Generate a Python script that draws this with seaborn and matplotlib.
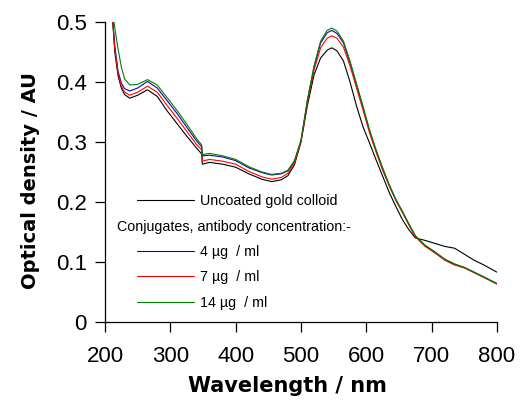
import numpy as np
import pandas as pd
import matplotlib
matplotlib.use("Agg")
import matplotlib.pyplot as plt
from matplotlib.lines import Line2D
import seaborn as sns

wavelength = [210, 215, 220, 225, 230, 238, 250, 265, 280, 295, 310, 325, 340, 348, 349,
              360, 380, 400, 420, 440, 455, 470, 480, 490, 500, 510, 520, 530, 540, 547,
              555, 565, 575, 585, 595, 605, 615, 625, 635, 645, 655, 665, 675, 690, 705,
              720, 735, 750, 765, 780, 800]

uncoated = [0.53, 0.45, 0.41, 0.39, 0.379, 0.373, 0.378, 0.387, 0.376, 0.352, 0.331, 0.310, 0.290, 0.280, 0.263,
            0.266, 0.263, 0.258, 0.247, 0.238, 0.234, 0.237, 0.244, 0.262, 0.300, 0.362, 0.412, 0.440, 0.453, 0.457,
            0.452, 0.435, 0.400, 0.360, 0.325, 0.298, 0.270, 0.243, 0.216, 0.193, 0.171, 0.154, 0.140, 0.136, 0.131,
            0.126, 0.123, 0.113, 0.103, 0.095, 0.083]

conj_4 = [0.53, 0.46, 0.418, 0.398, 0.389, 0.385, 0.390, 0.401, 0.390, 0.369, 0.348, 0.325, 0.302, 0.292, 0.277,
          0.278, 0.275, 0.269, 0.257, 0.249, 0.245, 0.247, 0.252, 0.268, 0.302, 0.370, 0.425, 0.465, 0.482, 0.486,
          0.481, 0.465, 0.432, 0.395, 0.357, 0.318, 0.285, 0.255, 0.228, 0.204, 0.184, 0.163, 0.143, 0.127, 0.116,
          0.104, 0.096, 0.091, 0.083, 0.075, 0.064]

conj_7 = [0.53, 0.455, 0.414, 0.393, 0.383, 0.378, 0.383, 0.393, 0.383, 0.361, 0.340, 0.318, 0.296, 0.287, 0.268,
          0.271, 0.268, 0.263, 0.251, 0.242, 0.238, 0.241, 0.248, 0.265, 0.301, 0.368, 0.420, 0.457, 0.473, 0.477,
          0.473, 0.458, 0.427, 0.390, 0.353, 0.315, 0.283, 0.253, 0.227, 0.203, 0.183, 0.162, 0.142, 0.126, 0.115,
          0.103, 0.095, 0.090, 0.082, 0.074, 0.063]

conj_14 = [0.53, 0.49, 0.455, 0.425, 0.405, 0.395, 0.396, 0.404, 0.395, 0.374, 0.353, 0.330, 0.306, 0.295, 0.279,
           0.281, 0.277, 0.271, 0.259, 0.250, 0.246, 0.248, 0.253, 0.269, 0.303, 0.371, 0.427, 0.468, 0.486, 0.490,
           0.485, 0.468, 0.435, 0.397, 0.359, 0.320, 0.287, 0.257, 0.229, 0.205, 0.185, 0.164, 0.144, 0.128, 0.117,
           0.105, 0.097, 0.091, 0.083, 0.075, 0.064]

series_names = ["Uncoated gold colloid", "4 \u00b5g  / ml", "7 \u00b5g  / ml", "14 \u00b5g  / ml"]
series_values = [uncoated, conj_4, conj_7, conj_14]
colors = ["#000000", "#0a0aa0", "#ff0000", "#008000"]
heading = "Conjugates, antibody concentration:-"
x_ticks = [200, 300, 400, 500, 600, 700, 800]
y_ticks = [0, 0.1, 0.2, 0.3, 0.4, 0.5]
y_tick_labels = ["0", "0.1", "0.2", "0.3", "0.4", "0.5"]

df = pd.concat([pd.DataFrame({"wl": wavelength, "od": v, "series": n})
                for n, v in zip(series_names, series_values)], ignore_index=True)

sns.set_style("ticks")
plt.rcParams["font.family"] = ["Liberation Sans", "DejaVu Sans"]
plt.rcParams["text.color"] = "black"
plt.rcParams["axes.labelcolor"] = "black"

fig = plt.figure(figsize=(5.21, 4.03), dpi=100)
ax = fig.add_axes([105 / 521, 1 - 322 / 403, (497 - 105) / 521, (322 - 22) / 403])

sns.lineplot(data=df, x="wl", y="od", hue="series", hue_order=series_names,
             palette=dict(zip(series_names, colors)), estimator=None, sort=False,
             linewidth=0.8, legend=False, ax=ax)

ax.set_xlim(200, 800)
ax.set_ylim(0, 0.5)
ax.set_xticks(x_ticks)
ax.set_yticks(y_ticks)
ax.set_yticklabels(y_tick_labels)
sns.despine(ax=ax)
for s in ["left", "bottom"]:
    ax.spines[s].set_linewidth(0.9)
    ax.spines[s].set_color("black")
ax.tick_params(axis="both", direction="out", length=7, width=0.9, colors="black", labelsize=16)
ax.tick_params(axis="x", pad=10)
ax.tick_params(axis="y", pad=6)

ax.set_xlabel("Wavelength / nm", fontsize=15, fontweight="bold", family="DejaVu Sans", color="black")
ax.set_ylabel("Optical density / AU", fontsize=14, fontweight="bold", family="DejaVu Sans", color="black")
ax.xaxis.set_label_coords((287.5 - 105) / 392, (322 - 376) / 300)
ax.yaxis.set_label_coords((40 - 105) / 392, (322 - 181) / 300)

handles = [Line2D([], [], color=colors[0], lw=0.8),
           Line2D([], [], color="none", lw=0),
           Line2D([], [], color=colors[1], lw=0.8),
           Line2D([], [], color=colors[2], lw=0.8),
           Line2D([], [], color=colors[3], lw=0.8)]
labels = [series_names[0], " ", series_names[1], series_names[2], series_names[3]]
leg = ax.legend(handles, labels, loc="upper left", bbox_to_anchor=((137 - 105) / 392, (322 - 194) / 300),
                frameon=False, fontsize=10.3, handlelength=4.0, handletextpad=0.4,
                labelspacing=0.8, borderpad=0, borderaxespad=0, labelcolor="black")
ax.text((117 - 105) / 392, (322 - 227) / 300, heading, transform=ax.transAxes,
        fontsize=10.3, va="center", ha="left", color="black")

fig.savefig("out.png", dpi=100)
